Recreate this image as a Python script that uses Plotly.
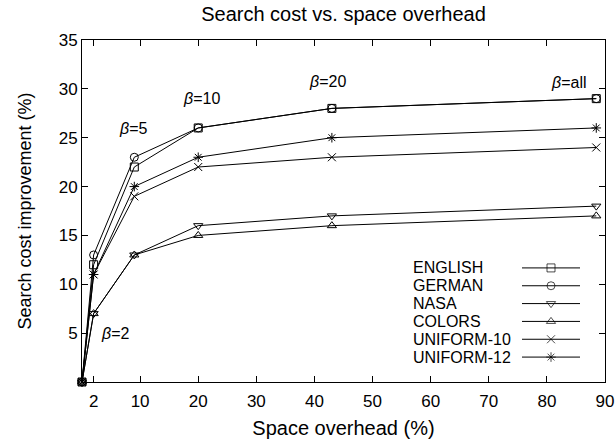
import plotly.graph_objects as go

# ---- data ----
x_overhead = [0, 2, 9, 20, 43, 88.5]
english = [0, 12, 22, 26, 28, 29]
german = [0, 13, 23, 26, 28, 29]
nasa = [0, 7, 13, 16, 17, 18]
colors = [0, 7, 13, 15, 16, 17]
uniform10 = [0, 11, 19, 22, 23, 24]
uniform12 = [0, 11, 20, 23, 25, 26]

series_names = ["ENGLISH", "GERMAN", "NASA", "COLORS", "UNIFORM-10", "UNIFORM-12"]
series_values = [english, german, nasa, colors, uniform10, uniform12]
series_symbols = ["square-open", "circle-open", "triangle-down-open",
                  "triangle-up-open", "x-thin-open", "asterisk-open"]

beta_values = ["2", "5", "10", "20", "all"]
beta_x = [5.7, 8.8, 20.5, 42.3, 83.8]
beta_y = [5.0, 25.9, 29.0, 30.8, 30.7]

x_ticks = [2, 10, 20, 30, 40, 50, 60, 70, 80, 90]
y_ticks = [5, 10, 15, 20, 25, 30, 35]

FONT = "Liberation Sans, Arial, Helvetica, sans-serif"

fig = go.Figure()
for name, vals, sym in zip(series_names, series_values, series_symbols):
    fig.add_trace(go.Scatter(
        x=x_overhead, y=vals, mode="lines+markers", name=name,
        line=dict(color="black", width=1),
        marker=dict(symbol=sym, size=8, color="black",
                    line=dict(color="black", width=1)),
        showlegend=False, cliponaxis=False))

# legend drawn gnuplot-style (text, then sample) on an overlay axis
LEG_TEXT_X = (412 - 82) / 523
for i, (name, sym) in enumerate(zip(series_names, series_symbols)):
    yy = 5 - i
    fig.add_trace(go.Scatter(
        x=[0, 0.5, 1], y=[yy, yy, yy], mode="lines+markers",
        line=dict(color="black", width=1),
        marker=dict(symbol=sym, size=[0, 8, 0], color="black",
                    line=dict(color="black", width=1)),
        xaxis="x2", yaxis="y2", showlegend=False, hoverinfo="skip"))
    fig.add_annotation(x=LEG_TEXT_X, y=yy, xref="paper", yref="y2", text=name,
                       showarrow=False, xanchor="left", borderpad=0,
                       font=dict(family=FONT, size=16, color="black"))

for b, bx, by in zip(beta_values, beta_x, beta_y):
    fig.add_annotation(x=bx, y=by, text="<i>β</i>=" + b, showarrow=False,
                       font=dict(family=FONT, size=16, color="black"))

axis_common = dict(showline=True, linecolor="black", linewidth=1, mirror="ticks",
                   ticks="inside", ticklen=6, tickcolor="black", showgrid=False,
                   zeroline=False, automargin=False,
                   tickfont=dict(family=FONT, size=17, color="black"))

fig.update_layout(
    width=615, height=442,
    margin=dict(l=82, r=10, t=40, b=60),
    plot_bgcolor="white", paper_bgcolor="white",
    title=dict(text="Search cost vs. space overhead", xref="paper", x=0.5,
               xanchor="center", yref="container", y=0.968, yanchor="middle",
               font=dict(family=FONT, size=20, color="black")),
    xaxis=dict(range=[0, 90], tickvals=x_ticks, ticklabelstandoff=4,
               title=dict(text="Space overhead (%)", standoff=10,
                          font=dict(family=FONT, size=20, color="black")),
               **axis_common),
    yaxis=dict(range=[0, 35], tickvals=y_ticks,
               title=dict(text="Search cost improvement (%)", standoff=22,
                          font=dict(family=FONT, size=18, color="black")),
               **axis_common),
    xaxis2=dict(domain=[(522 - 82) / 523, (580 - 82) / 523], range=[0, 1],
                visible=False, anchor="y2"),
    yaxis2=dict(domain=[(382 - 366) / 342, (382 - 259) / 342], range=[-0.5, 5.5],
                visible=False, anchor="x2"),
)

fig.write_html("out.html")
